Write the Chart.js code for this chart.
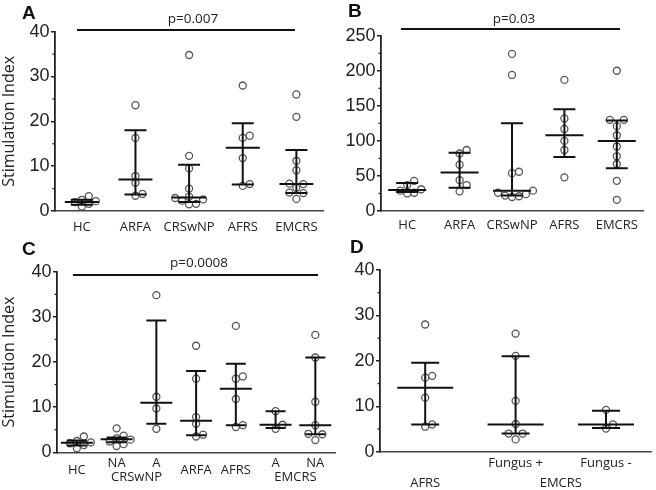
<!DOCTYPE html>
<html>
<head>
<meta charset="utf-8">
<script src="https://cdn.jsdelivr.net/npm/chart.js@4"></script>
<style>
  body { margin: 0; background: #fff; }
  #wrap { position: relative; width: 656px; height: 490px; overflow: hidden; }
  canvas { position: absolute; }
  #clipC { position: absolute; left: 0; top: 232px; width: 336px; height: 258px; overflow: hidden; }
</style>
</head>
<body>
<div id="wrap">
  <canvas id="chartA" width="328" height="245" style="left:0;top:0"></canvas>
  <canvas id="chartB" width="328" height="245" style="left:328px;top:0"></canvas>
  <div id="clipC"><canvas id="chartC" width="340" height="258" style="left:0;top:0"></canvas></div>
  <canvas id="chartD" width="320" height="258" style="left:336px;top:232px"></canvas>
</div>
<script>
// Panel A
const aCategories = ['HC', 'ARFA', 'CRSwNP', 'AFRS', 'EMCRS'];
const aPoints = [
  [1.0, 1.6, 2.0, 2.2, 2.5, 3.3],
  [3.4, 3.8, 6.3, 7.8, 16.3, 23.6],
  [1.5, 1.6, 2.3, 2.6, 2.9, 3.2, 5.0, 9.5, 12.3, 34.8],
  [5.6, 6.0, 11.8, 16.3, 16.8, 28.0],
  [2.7, 4.0, 4.1, 5.2, 6.0, 6.1, 9.1, 11.2, 21.0, 26.0]
];
const aMedian = [2.0, 7.0, 3.0, 14.1, 6.0];
const aQ1 = [1.4, 3.7, 2.0, 5.9, 4.0];
const aQ3 = [2.5, 18.0, 10.3, 19.6, 13.6];
const aYTicks = [0, 10, 20, 30, 40];

// Panel B
const bCategories = ['HC', 'ARFA', 'CRSwNP', 'AFRS', 'EMCRS'];
const bPoints = [
  [25, 26, 29, 31, 37, 43],
  [28, 37, 44, 66, 82, 87],
  [20, 21, 22, 24, 26, 29, 54, 56, 194, 224],
  [48, 87, 100, 117, 132, 187],
  [16, 43, 67, 78, 92, 108, 121, 130, 130, 200]
];
const bMedian = [30, 55, 29, 108, 100];
const bQ1 = [27, 33, 22, 77, 61];
const bQ3 = [40, 83, 125, 145, 129];
const bYTicks = [0, 50, 100, 150, 200, 250];

// Panel C
const cCategories = [['HC'], ['NA', ''], ['A', ''], ['ARFA'], ['AFRS'], ['A', ''], ['NA', '']];
const cGroups = [{ text: 'CRSwNP', from: 1, to: 2 }, { text: 'EMCRS', from: 5, to: 6 }];
const cPoints = [
  [0.9, 1.6, 2.0, 2.2, 2.5, 3.5],
  [1.4, 1.8, 2.4, 2.8, 3.1, 3.7, 5.3],
  [5.2, 9.7, 12.3, 34.8],
  [3.5, 3.9, 6.3, 7.8, 16.3, 23.6],
  [5.6, 6.0, 11.8, 16.3, 16.8, 28.0],
  [5.2, 6.1, 9.1],
  [2.7, 4.0, 4.1, 6.0, 11.2, 21.0, 26.0]
];
const cMedian = [2.1, 2.9, 11.0, 7.0, 14.1, 6.1, 6.0];
const cQ1 = [1.5, 2.2, 6.3, 3.8, 6.0, 5.4, 4.0];
const cQ3 = [2.6, 3.3, 29.2, 18.0, 19.6, 9.1, 21.0];

// Panel D
const dCategories = [['', 'AFRS'], ['Fungus +', ''], ['Fungus -', '']];
const dGroups = [{ text: 'EMCRS', from: 1, to: 2 }];
const dPoints = [
  [5.5, 6.0, 11.9, 16.3, 16.7, 28.0],
  [2.7, 4.0, 4.0, 6.1, 11.2, 21.1, 26.0],
  [5.1, 6.0, 9.2]
];
const dMedian = [14.1, 6.0, 6.0];
const dQ1 = [6.0, 4.0, 5.2];
const dQ3 = [19.6, 21.0, 9.0];
const dYTicks = [0, 10, 20, 30, 40];

Chart.defaults.font.family = 'Open Sans';
Chart.defaults.color = '#222';

// draws error bars, minor ticks, p-value line, panel letter, group labels
const decoPlugin = {
  id: 'deco',
  afterDatasetsDraw(chart, args, o) {
    const ctx = chart.ctx, xs = chart.scales.x, ys = chart.scales.y;
    ctx.save();
    ctx.strokeStyle = '#111';
    ctx.lineWidth = 2;
    o.median.forEach((m, i) => {
      const x = xs.getPixelForValue(i);
      const y1 = ys.getPixelForValue(o.q1[i]), y3 = ys.getPixelForValue(o.q3[i]);
      const ym = ys.getPixelForValue(m);
      ctx.beginPath();
      ctx.moveTo(x, y1); ctx.lineTo(x, y3);
      ctx.moveTo(x - o.capHalf, y1); ctx.lineTo(x + o.capHalf, y1);
      ctx.moveTo(x - o.capHalf, y3); ctx.lineTo(x + o.capHalf, y3);
      ctx.moveTo(x - o.medHalf, ym); ctx.lineTo(x + o.medHalf, ym);
      ctx.stroke();
    });
    ctx.restore();
  },
  afterDraw(chart, args, o) {
    const ctx = chart.ctx, xs = chart.scales.x, ys = chart.scales.y;
    ctx.save();
    // minor ticks
    ctx.strokeStyle = '#222';
    ctx.lineWidth = 1.3;
    const t = o.yTicks;
    for (let i = 0; i < t.length - 1; i++) {
      const y = ys.getPixelForValue((t[i] + t[i + 1]) / 2);
      ctx.beginPath();
      ctx.moveTo(chart.chartArea.left - 2.5, y);
      ctx.lineTo(chart.chartArea.left, y);
      ctx.stroke();
    }
    // p value
    if (o.pText) {
      ctx.strokeStyle = '#111';
      ctx.lineWidth = 2;
      ctx.beginPath();
      ctx.moveTo(o.pLine[0], o.pLine[2]);
      ctx.lineTo(o.pLine[1], o.pLine[2]);
      ctx.stroke();
      ctx.fillStyle = '#222';
      ctx.font = '13.5px "Open Sans"';
      ctx.textAlign = 'center';
      ctx.textBaseline = 'middle';
      ctx.fillText(o.pText, o.pPos[0], o.pPos[1]);
    }
    // group labels
    ctx.fillStyle = '#222';
    ctx.font = '13px "Open Sans"';
    ctx.textAlign = 'center';
    ctx.textBaseline = 'middle';
    (o.groups || []).forEach(g => {
      const x = (xs.getPixelForValue(g.from) + xs.getPixelForValue(g.to)) / 2;
      ctx.fillText(g.text, x, xs.top + o.groupY);
    });
    // panel letter
    ctx.font = 'bold 19px "Liberation Sans"';
    ctx.textAlign = 'left';
    ctx.textBaseline = 'alphabetic';
    ctx.fillStyle = '#111';
    ctx.fillText(o.letter, o.letterPos[0], o.letterPos[1]);
    ctx.restore();
  }
};

function swarm(chart, diam) {
  const xs = chart.scales.x, ys = chart.scales.y;
  const unit = xs.getPixelForValue(1) - xs.getPixelForValue(0);
  const groups = {};
  chart.data.datasets[0].data.forEach(p => (groups[p.g] = groups[p.g] || []).push(p));
  Object.values(groups).forEach(list => {
    const placed = [];
    list.slice().sort((a, b) => a.y - b.y).forEach(p => {
      const py = ys.getPixelForValue(p.y);
      for (let k = 0; k < 30; k++) {
        const off = (k % 2 ? 1 : -1) * Math.ceil(k / 2) * diam;
        const clash = placed.some(q => (q[0] - off) ** 2 + (q[1] - py) ** 2 < (diam - 0.5) ** 2);
        if (!clash) {
          placed.push([off, py]);
          p.x = p.g + off / unit;
          break;
        }
      }
    });
  });
  chart.update('none');
}

function makeChart(id, cats, points, med, q1, q3, yTicks, deco) {
  const data = [];
  points.forEach((vals, i) => vals.forEach(v => data.push({ x: i, y: v, g: i })));
  const chart = new Chart(document.getElementById(id), {
    type: 'scatter',
    data: {
      datasets: [{
        data: data,
        pointRadius: 3.5,
        pointHoverRadius: 3.5,
        pointBorderWidth: 1.3,
        pointBorderColor: '#555',
        pointBackgroundColor: '#fff'
      }]
    },
    options: {
      responsive: false,
      animation: false,
      events: [],
      layout: { padding: deco.padding },
      plugins: {
        legend: { display: false },
        tooltip: { enabled: false },
        deco: Object.assign({ median: med, q1: q1, q3: q3, yTicks: yTicks }, deco)
      },
      scales: {
        x: {
          type: 'linear',
          min: -0.5,
          max: cats.length - 0.5,
          afterBuildTicks: s => { s.ticks = cats.map((c, i) => ({ value: i })); },
          afterFit: s => { s.height = deco.xHeight; },
          grid: { display: false, drawTicks: false },
          border: { color: '#444', width: 1.5 },
          ticks: {
            padding: deco.xPad,
            autoSkip: false,
            maxRotation: 0,
            crossAlign: deco.crossAlign || 'near',
            font: { family: 'Open Sans', size: 13, lineHeight: deco.xLh },
            color: '#222',
            callback: v => cats[v]
          }
        },
        y: {
          min: yTicks[0],
          max: yTicks[yTicks.length - 1],
          afterBuildTicks: s => { s.ticks = yTicks.map(v => ({ value: v })); },
          afterFit: s => { s.width = deco.yWidth; },
          grid: { display: true, drawOnChartArea: false, drawTicks: true, tickLength: 4, color: '#222', lineWidth: 1.5 },
          border: { color: '#222', width: 1.8 },
          ticks: { padding: 1.5, font: { family: 'Liberation Sans', size: 18 }, color: '#222' },
          title: {
            display: !!deco.yTitle,
            text: deco.yTitle || '',
            padding: 0,
            font: { family: 'Open Sans', size: 16 },
            color: '#222'
          }
        }
      }
    },
    plugins: [decoPlugin]
  });
  swarm(chart, 7);
  return chart;
}

makeChart('chartA', aCategories, aPoints, aMedian, aQ1, aQ3, aYTicks, {
  padding: { left: 0, top: 31.7, right: 3, bottom: 0 },
  yWidth: 55, xHeight: 34, xPad: 8, xLh: 1.2,
  yTitle: 'Stimulation Index',
  medHalf: 17, capHalf: 11,
  pText: 'p=0.007', pPos: [193, 19], pLine: [77, 295, 30],
  letter: 'A', letterPos: [22, 18.5]
});

makeChart('chartB', bCategories, bPoints, bMedian, bQ1, bQ3, bYTicks, {
  padding: { left: 0, top: 35.7, right: 13, bottom: 0 },
  yWidth: 53, xHeight: 34, xPad: 6, xLh: 1.2,
  medHalf: 19, capHalf: 11,
  pText: 'p=0.03', pPos: [186, 19], pLine: [73, 292, 29],
  letter: 'B', letterPos: [20, 17]
});

makeChart('chartC', cCategories, cPoints, cMedian, cQ1, cQ3, aYTicks, {
  padding: { left: 0, top: 39.7, right: 0, bottom: 0 },
  yWidth: 57, xHeight: 37.7, xPad: 10.7, xLh: 1.15, crossAlign: 'center',
  yTitle: 'Stimulation Index',
  medHalf: 16, capHalf: 10,
  pText: 'p=0.0008', pPos: [199, 31], pLine: [73, 318, 43],
  groups: cGroups, groupY: 25,
  letter: 'C', letterPos: [22, 23]
});

makeChart('chartD', dCategories, dPoints, dMedian, dQ1, dQ3, dYTicks, {
  padding: { left: 0, top: 38, right: 0, bottom: 0 },
  yWidth: 44, xHeight: 38.3, xPad: 1.3, xLh: 1.55,
  medHalf: 28, capHalf: 14,
  groups: dGroups, groupY: 32,
  letter: 'D', letterPos: [14, 21.3]
});
</script>
</body>
</html>
